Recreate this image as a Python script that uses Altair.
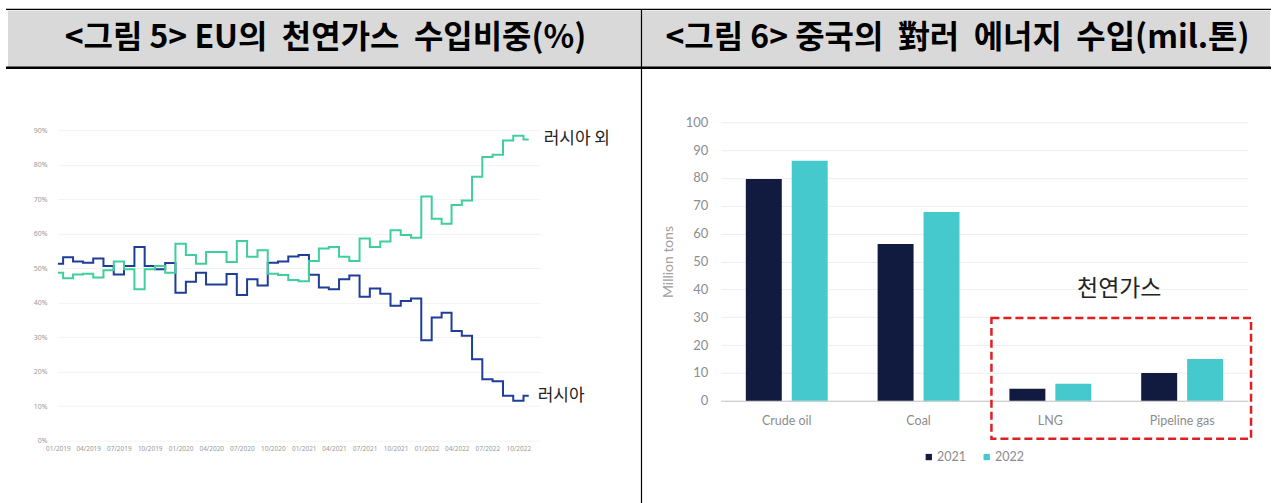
import altair as alt
import pandas as pd

# ---------------- data ----------------
months = pd.date_range("2019-01-01", periods=47, freq="MS").strftime("%Y/%m/%d").tolist()
series_names = ["러시아", "러시아 외"]
russia = [51.3, 53.2, 51.9, 51.6, 52.8, 50.6, 48.2, 50.6, 56.1, 50.6, 49.7, 51.5,
          42.9, 46.1, 48.7, 45.3, 45.3, 48.3, 42.2, 46.8, 45.0, 51.6, 51.9, 53.4,
          53.8, 48.1, 44.4, 43.9, 46.8, 47.9, 41.7, 44.1, 42.6, 39.1, 40.5, 41.2,
          29.1, 35.7, 37.1, 31.8, 30.4, 23.6, 17.8, 17.2, 13.0, 11.6, 13.0]
non_russia = [48.7, 47.1, 48.2, 48.4, 47.3, 49.4, 51.9, 49.7, 43.9, 49.7, 50.6, 48.7,
              57.1, 53.8, 51.3, 54.7, 54.7, 51.8, 57.9, 53.3, 55.2, 48.4, 48.0, 46.6,
              46.2, 52.1, 55.7, 56.1, 53.3, 52.1, 58.6, 56.1, 57.7, 61.0, 59.6, 58.8,
              70.8, 64.3, 62.9, 68.3, 69.6, 76.5, 82.2, 82.9, 87.0, 88.4, 87.3]
pct_ticks = [0, 10, 20, 30, 40, 50, 60, 70, 80, 90]
date_ticks = [alt.DateTime(year=y, month=m, date=1) for y in (2019, 2020, 2021, 2022) for m in (1, 4, 7, 10)]

categories = ["Crude oil", "Coal", "LNG", "Pipeline gas"]
years = ["2021", "2022"]
imports_2021 = [79.6, 56.3, 4.3, 10.0]
imports_2022 = [86.2, 67.8, 6.1, 15.0]
bar_ticks = [0, 10, 20, 30, 40, 50, 60, 70, 80, 90, 100]

SP = "\u00a0\u00a0"
titles = ["<그림 5> EU의" + SP + "천연가스" + SP + "수입비중(%)",
          "<그림 6> 중국의" + SP + "對러" + SP + "에너지" + SP + "수입(mil.톤)"]
gas_label = "천연가스"

# ---------------- layout constants ----------------
OX, OY = 57, 121          # left plot origin on the page
W1, H1 = 483, 319
W2, H2 = 528, 279
GAP = 181
BLUE, GREEN = "#1f3d99", "#3ecf9a"
KFONT = "Noto Sans CJK KR"

line_df = pd.DataFrame({
    "month": months * 2,
    "share": russia + non_russia,
    "series": [series_names[0]] * len(months) + [series_names[1]] * len(months),
})
last_df = line_df[line_df["month"] == months[-1]]

one = alt.Data(values=[{"k": 1}])

x1 = alt.X("month:T",
           scale=alt.Scale(domain=[alt.DateTime(year=2019, month=1, date=1),
                                   alt.DateTime(year=2022, month=12, date=5)]),
           axis=alt.Axis(values=date_ticks, format="%m/%Y", labelFontSize=6.5,
                         labelColor="#9a9a9a", labelFont="Noto Sans", labelFlush=False,
                         labelOverlap=False, ticks=False, domain=False, grid=False,
                         labelPadding=5, title=None))
y1 = alt.Y("share:Q",
           scale=alt.Scale(domain=[0, 92.3], nice=False),
           axis=alt.Axis(values=pct_ticks, labelExpr="datum.value + '%'", labelFontSize=7,
                         labelColor="#9a9a9a", labelFont="Noto Sans", ticks=False,
                         domain=False, gridColor="#f3f3f3", labelPadding=11, title=None))
color1 = alt.Color("series:N", scale=alt.Scale(domain=series_names, range=[BLUE, GREEN]), legend=None)

bounds = alt.Chart(one).mark_rect(opacity=0).encode(
    x=alt.value(-OX), x2=alt.value(1274 - OX), y=alt.value(-OY), y2=alt.value(503 - OY))
header = alt.Chart(one).mark_rect(fill="#d9d9d9").encode(
    x=alt.value(7 - OX), x2=alt.value(1271 - OX), y=alt.value(9 - OY), y2=alt.value(66 - OY))
top_rule = alt.Chart(one).mark_rule(color="black", strokeWidth=1.2).encode(
    x=alt.value(5 - OX), x2=alt.value(1272 - OX), y=alt.value(8 - OY))
bottom_rule = alt.Chart(one).mark_rule(color="black", strokeWidth=2.5).encode(
    x=alt.value(5 - OX), x2=alt.value(1272 - OX), y=alt.value(66.5 - OY))
divider = alt.Chart(one).mark_rule(color="black", strokeWidth=1.2).encode(
    x=alt.value(641.5 - OX), y=alt.value(8 - OY), y2=alt.value(503 - OY))
title_l = alt.Chart(one).mark_text(font=KFONT, fontSize=32, fontWeight="bold", color="black",
                                   align="center", baseline="middle").encode(
    x=alt.value(325 - OX), y=alt.value(37 - OY), text=alt.value(titles[0]))
title_r = alt.Chart(one).mark_text(font=KFONT, fontSize=32, fontWeight="bold", color="black",
                                   align="center", baseline="middle").encode(
    x=alt.value(958 - OX), y=alt.value(37 - OY), text=alt.value(titles[1]))

lines = alt.Chart(line_df).mark_line(interpolate="step", strokeWidth=2).encode(
    x=x1, y=y1, color=color1)
lab_out = alt.Chart(last_df).mark_text(align="left", baseline="middle", dx=15, fontSize=17,
                                       font=KFONT, color="#222222").encode(
    x=x1, y=y1, text="series:N").transform_filter(alt.datum.series == series_names[1])
lab_ru = alt.Chart(last_df).mark_text(align="left", baseline="middle", dx=9, fontSize=17,
                                      font=KFONT, color="#222222").encode(
    x=x1, y=y1, text="series:N").transform_filter(alt.datum.series == series_names[0])

left = alt.layer(bounds, header, top_rule, bottom_rule, divider, title_l, title_r,
                 lines, lab_out, lab_ru).properties(width=W1, height=H1)

# ---------------- right chart ----------------
bar_df = pd.DataFrame({
    "category": categories * 2,
    "year": [years[0]] * 4 + [years[1]] * 4,
    "value": imports_2021 + imports_2022,
})

bars = alt.Chart(bar_df).mark_bar().encode(
    x=alt.X("category:N", sort=categories,
            scale=alt.Scale(paddingInner=0, paddingOuter=0),
            axis=alt.Axis(labelAngle=0, labelFontSize=12.5, labelColor="#8c8c8c", labelFont="Lato",
                          ticks=False, domainColor="#c4c4c4", domainWidth=1.2, labelPadding=14,
                          title=None, grid=False)),
    xOffset=alt.XOffset("year:N", sort=years, scale=alt.Scale(paddingInner=0.217, paddingOuter=0.5435)),
    y=alt.Y("value:Q", scale=alt.Scale(domain=[0, 100], nice=False),
            axis=alt.Axis(values=bar_ticks, labelFontSize=13, labelColor="#8c8c8c", labelFont="Lato",
                          ticks=False, domain=False, gridColor="#eeeeee", labelPadding=13,
                          title="Million tons", titleFont="Lato", titleFontSize=14,
                          titleFontWeight="normal", titleColor="#a0a0a0", titlePadding=10)),
    color=alt.Color("year:N", scale=alt.Scale(domain=years, range=["#111b3f", "#46c9cc"]),
                    legend=alt.Legend(title=None, orient="none", legendX=202, legendY=329,
                                      direction="horizontal", symbolType="square", symbolSize=40,
                                      symbolStrokeWidth=0, labelFontSize=12.5, labelColor="#8c8c8c",
                                      labelFont="Lato", columnPadding=14, labelOffset=2)),
)

box = alt.Chart(one).mark_rect(fillOpacity=0, stroke="#e02020", strokeWidth=2.5,
                               strokeDash=[8, 4]).encode(
    x=alt.value(271), x2=alt.value(531), y=alt.value(196), y2=alt.value(317))
gas_text = alt.Chart(one).mark_text(font=KFONT, fontSize=23, color="#222222",
                                    align="center", baseline="middle").encode(
    x=alt.value(399), y=alt.value(167), text=alt.value(gas_label))

right = alt.layer(bars, box, gas_text).properties(width=W2, height=H2)

chart = alt.hconcat(left, right, spacing=GAP, bounds="flush").resolve_scale(
    color="independent"
).resolve_legend(
    color="independent"
).properties(
    padding=0
).configure_view(stroke="transparent")

chart.save("out.html", embed_options={"renderer": "svg", "actions": False})
